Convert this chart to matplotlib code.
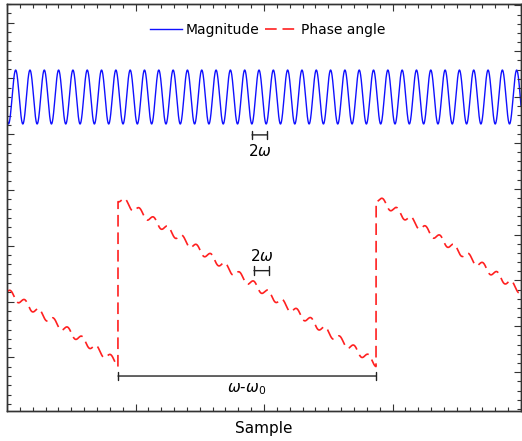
import numpy as np
import matplotlib
matplotlib.use("Agg")
import matplotlib.pyplot as plt
from matplotlib.ticker import MultipleLocator, NullFormatter

# values (x in samples, magnitude arbitrary, phase in degrees)
x_range = [0, 400]
mag_mean = 1.0
mag_amp = 0.29
mag_period = 11.14       # 2*omega oscillation period
mag_trough = 1.17        # position of first trough
phase_jumps = [86.4, 287.2]   # where the phase wraps from -180 to 180
phase_ripple_amp = 8.0
phase_ripple_peak = 292.4

x = np.linspace(x_range[0], x_range[1], 4000)
magnitude = mag_mean - mag_amp * np.cos(2 * np.pi * (x - mag_trough) / mag_period)
beat_period = phase_jumps[1] - phase_jumps[0]
phase = 180 - 360 * np.mod((x - phase_jumps[0]) / beat_period, 1.0)
phase = phase + phase_ripple_amp * np.cos(2 * np.pi * (x - phase_ripple_peak) / mag_period)

fig = plt.figure(figsize=(5.22, 4.41), dpi=100)
ax = fig.add_axes([7 / 522, 30 / 441, 514 / 522, 407 / 441])
ax2 = ax.twinx()

l1, = ax.plot(x, magnitude, color="#1010ff", lw=1.0, label="Magnitude")
l2, = ax2.plot(x, phase, color="#ff2020", lw=1.2, ls=(0, (7, 3.5)), label="Phase angle")

ax.set_xlim(*x_range)
ax.set_ylim(-2.376, 2.0)
ax2.set_ylim(-284.7, 603)

ax.xaxis.set_major_locator(MultipleLocator(100))
ax.xaxis.set_minor_locator(MultipleLocator(10))
ax.yaxis.set_major_locator(MultipleLocator(0.6))
ax.yaxis.set_minor_locator(MultipleLocator(0.1))
ax2.yaxis.set_major_locator(MultipleLocator(100))
ax2.yaxis.set_minor_locator(MultipleLocator(20))

for a in (ax, ax2):
    a.tick_params(which="both", direction="in", color="#333333", width=0.8,
                  labelleft=False, labelright=False, labelbottom=False)
    a.tick_params(which="major", length=5)
    a.tick_params(which="minor", length=3)
    for s in a.spines.values():
        s.set_color("#333333")
        s.set_linewidth(1.0)
ax.tick_params(which="both", top=True, right=False)
ax2.tick_params(which="both", left=False, right=True)
ax.xaxis.set_major_formatter(NullFormatter())

ax.set_xlabel("Sample", fontsize=11, labelpad=7)

# brackets and labels
def bracket(x0, x1, y):
    ax2.annotate("", xy=(x0, y), xytext=(x1, y),
                 arrowprops=dict(arrowstyle="|-|", color="#222222", lw=1.0,
                                 mutation_scale=3, shrinkA=0, shrinkB=0))

bracket(190.7, 202.3, 317.5)
ax2.text(196.5, 300, r"2$\omega$", ha="center", va="top", fontsize=11)

bracket(192.2, 203.9, 21.4)
ax2.text(198.0, 36, r"2$\omega$", ha="center", va="bottom", fontsize=11)

bracket(phase_jumps[0], phase_jumps[1], -208.4)
ax2.text(186.5, -219, r"$\omega$-$\omega_0$", ha="center", va="top", fontsize=11)

ax.legend(handles=[l1, l2], loc="upper center", bbox_to_anchor=(0.507, 0.985),
          ncol=2, frameon=False, fontsize=10, handlelength=2.3,
          handletextpad=0.3, columnspacing=0.4)

fig.savefig("out.png", dpi=100)
